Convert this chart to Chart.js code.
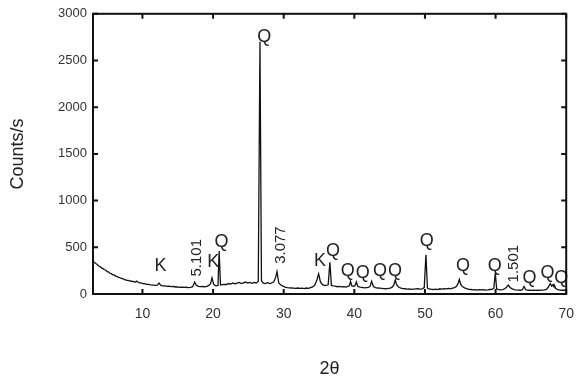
<!DOCTYPE html>
<html>
<head>
<meta charset="utf-8">
<script src="https://cdn.jsdelivr.net/npm/chart.js@4"></script>
<style>
html,body{margin:0;padding:0;background:#fff;}
#wrap{width:586px;height:378px;}
</style>
</head>
<body>
<div id="wrap"><canvas id="c" width="586" height="378"></canvas></div>
<script>
// ---- data ----
const twoTheta = [3.0,3.2,3.4,3.6,3.8,4.0,4.2,4.4,4.6,4.8,5.0,5.2,5.4,5.6,5.8,6.0,6.2,6.4,6.6,6.8,7.0,7.2,7.4,7.6,7.8,8.0,8.2,8.4,8.6,8.8,9.0,9.2,9.35,9.6,9.8,10.0,10.3,10.6,10.9,11.2,11.5,11.8,12.1,12.35,12.6,12.9,13.2,13.5,13.8,14.1,14.4,14.7,15.0,15.3,15.6,15.9,16.2,16.5,16.8,17.1,17.4,17.6,17.9,18.2,18.5,18.8,19.1,19.4,19.65,19.85,20.1,20.4,20.7,20.86,21.05,21.3,21.6,21.9,22.2,22.5,22.8,23.1,23.4,23.7,24.0,24.3,24.6,24.9,25.2,25.5,25.8,26.1,26.4,26.64,26.85,27.1,27.4,27.7,28.0,28.3,28.6,28.85,29.05,29.3,29.6,29.9,30.2,30.5,30.8,31.1,31.4,31.7,32.0,32.3,32.6,32.9,33.2,33.5,33.8,34.1,34.4,34.7,34.95,35.2,35.5,35.8,36.1,36.3,36.54,36.75,37.0,37.3,37.6,37.9,38.2,38.5,38.8,39.1,39.3,39.46,39.65,39.9,40.1,40.29,40.5,40.8,41.1,41.4,41.7,42.0,42.25,42.45,42.7,43.0,43.3,43.6,43.9,44.2,44.5,44.8,45.1,45.4,45.6,45.79,46.0,46.3,46.6,46.9,47.2,47.5,47.8,48.1,48.4,48.7,49.0,49.3,49.6,49.9,50.14,50.35,50.6,50.9,51.2,51.5,51.8,52.1,52.4,52.7,53.0,53.3,53.6,53.9,54.2,54.5,54.7,54.87,55.05,55.3,55.6,55.9,56.2,56.5,56.8,57.1,57.4,57.7,58.0,58.3,58.6,58.9,59.2,59.5,59.75,59.96,60.15,60.4,60.7,61.0,61.3,61.55,61.8,62.05,62.3,62.6,62.9,63.2,63.5,63.8,64.03,64.25,64.5,64.8,65.1,65.4,65.7,66.0,66.3,66.6,66.9,67.2,67.45,67.74,67.95,68.14,68.22,68.31,68.5,68.8,69.1,69.4,69.7,70.0];
const counts = [350,338,326,316,300,294,280,272,262,255,240,236,222,218,205,204,192,190,178,176,166,164,156,152,146,146,138,140,132,134,126,138,128,120,118,112,110,104,102,97,96,92,94,118,92,88,86,82,84,78,80,75,76,72,74,70,72,69,72,78,128,96,82,78,80,76,82,92,110,172,100,88,92,460,96,100,104,102,112,106,118,108,116,124,112,120,128,116,124,114,124,118,134,2700,142,116,112,122,112,118,130,175,240,118,96,84,74,68,66,64,62,60,64,60,62,58,64,60,68,76,96,150,215,130,100,90,94,98,340,94,88,84,78,82,76,78,74,82,90,135,86,82,90,128,80,74,70,66,68,70,86,135,80,68,64,62,60,58,56,60,64,76,100,150,96,72,62,58,56,52,54,50,52,54,56,52,56,68,420,64,54,50,48,52,48,56,52,58,54,60,56,62,68,86,118,155,106,80,66,58,50,48,44,46,42,46,44,46,42,44,48,50,62,225,56,48,44,46,56,72,95,70,58,48,44,42,40,46,80,48,42,40,38,42,38,40,38,42,44,50,72,112,84,102,88,96,62,46,42,40,42,40];
const xTickValues = [10,20,30,40,50,60,70];
const yTickValues = [0,500,1000,1500,2000,2500,3000];
const labelText = ['K','5.101','K','Q','Q','3.077','K','Q','Q','Q','Q','Q','Q','Q','Q','1.501','Q','Q','Q'];
const labelX = [12.56,17.77,20.02,21.21,27.26,29.58,35.14,36.97,39.08,41.19,43.65,45.76,50.26,55.39,59.89,62.63,64.81,67.35,69.31];
const labelY = [304,388,341,561,2748,524,351,456,247,226,247,247,572,299,299,325,173,226,173];
const labelRotated = [false,true,false,false,false,true,false,false,false,false,false,false,false,false,false,true,false,false,false];

const points = twoTheta.map((t,i)=>({x:t,y:counts[i]}));

const frameTicks = {
  id:'frameTicks',
  afterDraw(chart){
    const {ctx, chartArea:a, scales:{x,y}} = chart;
    ctx.save();
    ctx.strokeStyle='#111';
    ctx.lineWidth=2;
    ctx.strokeRect(a.left,a.top,a.right-a.left,a.bottom-a.top);
    const L=5;
    ctx.beginPath();
    xTickValues.forEach(v=>{
      const px=x.getPixelForValue(v);
      ctx.moveTo(px,a.bottom); ctx.lineTo(px,a.bottom-L);
      ctx.moveTo(px,a.top); ctx.lineTo(px,a.top+L);
    });
    yTickValues.forEach(v=>{
      const py=y.getPixelForValue(v);
      ctx.moveTo(a.left,py); ctx.lineTo(a.left+L,py);
      ctx.moveTo(a.right,py); ctx.lineTo(a.right-L,py);
    });
    ctx.stroke();
    ctx.restore();
  }
};

const peakLabels = {
  id:'peakLabels',
  afterDatasetsDraw(chart){
    const {ctx, scales:{x,y}} = chart;
    ctx.save();
    ctx.fillStyle='#222';
    ctx.textAlign='center';
    ctx.textBaseline='middle';
    labelText.forEach((t,i)=>{
      const px=x.getPixelForValue(labelX[i]);
      const py=y.getPixelForValue(labelY[i]);
      if(labelRotated[i]){
        ctx.font='15px "Liberation Sans", Arial, sans-serif';
        ctx.save();
        ctx.translate(px,py);
        ctx.rotate(-Math.PI/2);
        ctx.fillText(t,0,0);
        ctx.restore();
      } else {
        ctx.font='18px "Liberation Sans", Arial, sans-serif';
        ctx.fillText(t,px,py);
      }
    });
    ctx.restore();
  }
};

new Chart(document.getElementById('c'),{
  type:'line',
  data:{datasets:[{data:points,borderColor:'#111',borderWidth:1.3,pointRadius:0,tension:0,fill:false}]},
  options:{
    responsive:false,
    animation:false,
    devicePixelRatio:1,
    layout:{padding:{left:0,right:15,top:8,bottom:0}},
    plugins:{legend:{display:false},tooltip:{enabled:false}},
    scales:{
      x:{
        type:'linear',min:3,max:70,
        afterBuildTicks(s){s.ticks=xTickValues.map(v=>({value:v}));},
        afterFit(s){s.height=84;},
        grid:{display:false,drawTicks:false},
        border:{display:false},
        ticks:{padding:12,color:'#333',callback:v=>String(v),font:{family:'"Liberation Sans", Arial, sans-serif',size:14},maxRotation:0},
        title:{display:true,text:'2θ',color:'#222',font:{family:'"Liberation Sans", Arial, sans-serif',size:18,lineHeight:1},padding:{top:0,bottom:0}}
      },
      y:{
        type:'linear',min:0,max:3000,
        afterBuildTicks(s){s.ticks=yTickValues.map(v=>({value:v}));},
        afterFit(s){s.width=93;},
        grid:{display:false,drawTicks:false},
        border:{display:false},
        ticks:{padding:6,color:'#333',callback:v=>String(v),font:{family:'"Liberation Sans", Arial, sans-serif',size:13}},
        title:{display:true,text:'Counts/s',color:'#222',font:{family:'"Liberation Sans", Arial, sans-serif',size:18},padding:{top:7,bottom:0}}
      }
    }
  },
  plugins:[frameTicks,peakLabels]
});
</script>
</body>
</html>
